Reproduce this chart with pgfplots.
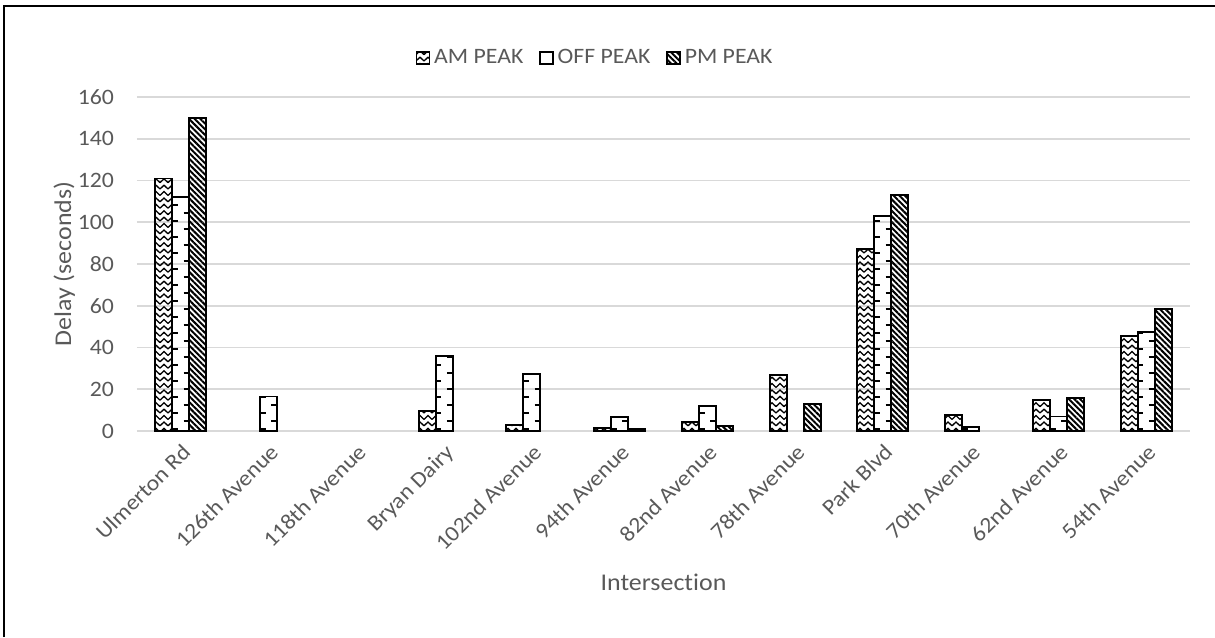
\documentclass[border=0pt]{standalone}
\usepackage{pgfplots}
\pgfplotsset{compat=1.18}
\usepackage{fontspec}
\setmainfont{Carlito}[FakeStretch=1.08, RawFeature=-liga]
\usetikzlibrary{patterns,patterns.meta}

\definecolor{txtgray}{HTML}{595959}
\definecolor{gridgray}{HTML}{D9D9D9}

% stacked chevrons (AM peak)
\pgfdeclarepatternformonly{zigzag}{\pgfqpoint{-1pt}{-1pt}}{\pgfqpoint{5pt}{4.5pt}}{\pgfqpoint{4pt}{3.2pt}}{%
  \pgfsetlinewidth{0.65pt}%
  \pgfpathmoveto{\pgfqpoint{0pt}{0pt}}%
  \pgfpathlineto{\pgfqpoint{2pt}{1.9pt}}%
  \pgfpathlineto{\pgfqpoint{4pt}{0pt}}%
  \pgfusepath{stroke}}

% short horizontal dashes alternating against the left and right edges of
% each off-peak bar; the cell is one category wide
\pgfdeclarepatternformonly{hdashes}{\pgfqpoint{-3pt}{-1pt}}{\pgfqpoint{44.875pt}{9pt}}{\pgfqpoint{43.875pt}{8pt}}{%
  \pgfsetlinewidth{0.7pt}%
  \pgfpathmoveto{\pgfqpoint{-1.6pt}{0pt}}%
  \pgfpathlineto{\pgfqpoint{1.3pt}{0pt}}%
  \pgfpathmoveto{\pgfqpoint{4.0pt}{4pt}}%
  \pgfpathlineto{\pgfqpoint{6.9pt}{4pt}}%
  \pgfusepath{stroke}}

\begin{document}
\begin{tikzpicture}
\useasboundingbox (-68.5pt,-103pt) rectangle (539pt,215.5pt);
% chart frame
\draw[line width=1pt] (-66.5pt,-103pt) -- (-66.5pt,212.3pt) -- (539pt,212.3pt);

\begin{axis}[
  at={(0,0)}, anchor=south west,
  scale only axis,
  width=526.5pt, height=167pt,
  ybar=0pt, bar width=8.5pt,
  xmin=-0.5, xmax=11.5,
  ymin=0, ymax=160,
  ytick={0,20,...,160},
  xtick={0,...,11},
  xticklabels={Ulmerton Rd,126th Avenue,118th Avenue,Bryan Dairy,102nd Avenue,94th Avenue,82nd Avenue,78th Avenue,Park Blvd,70th Avenue,62nd Avenue,54th Avenue},
  axis line style={draw=none},
  major tick length=0pt,
  ymajorgrids, grid style={gridgray, line width=0.9pt},
  /pgf/number format/assume math mode=true,
  tick label style={font=\fontsize{11}{13}\selectfont, text=txtgray},
  yticklabel style={xshift=-8pt},
  xticklabel style={rotate=45, anchor=north east, inner sep=1pt, xshift=-3pt, yshift=-3pt},
  ylabel={Delay (seconds)},
  ylabel style={font=\fontsize{12}{14}\selectfont, text=txtgray, at={(axis description cs:-0.069,0.5)}, anchor=center, rotate=0},
  xlabel={Intersection},
  xlabel style={font=\fontsize{12}{14}\selectfont, text=txtgray, at={(axis description cs:0.5,-0.452)}, anchor=center},
  legend image code/.code={\draw[#1, line width=0.7pt] (0pt,-3pt) rectangle (6.5pt,3pt);},
  legend style={draw=none, fill=none, at={(axis description cs:0.436,1.117)}, anchor=center,
    legend columns=-1, font=\fontsize{11}{13}\selectfont, text=txtgray,
    /tikz/every even column/.append style={column sep=6pt}},
  legend cell align=left,
  clip=false,
]
\addplot[draw=black, line width=0.9pt, pattern=zigzag] coordinates {
  (0,121) (3,9.7) (4,3) (5,1.6) (6,4.2) (7,26.8) (8,87) (9,7.5) (10,15) (11,45.5)};
\addlegendentry{AM PEAK}
\addplot[draw=black, line width=0.9pt, pattern=hdashes] coordinates {
  (0,112) (1,16.5) (3,36) (4,27.4) (5,6.7) (6,12) (8,103) (9,1.8) (10,6.9) (11,47.3)};
\addlegendentry{OFF PEAK}
\addplot[draw=black, line width=0.9pt, pattern={Lines[angle=-45,distance=2pt,line width=1pt]}] coordinates {
  (0,150) (5,1) (6,2.4) (7,12.9) (8,113) (10,16) (11,58.4)};
\addlegendentry{PM PEAK}
\end{axis}
\end{tikzpicture}
\end{document}
